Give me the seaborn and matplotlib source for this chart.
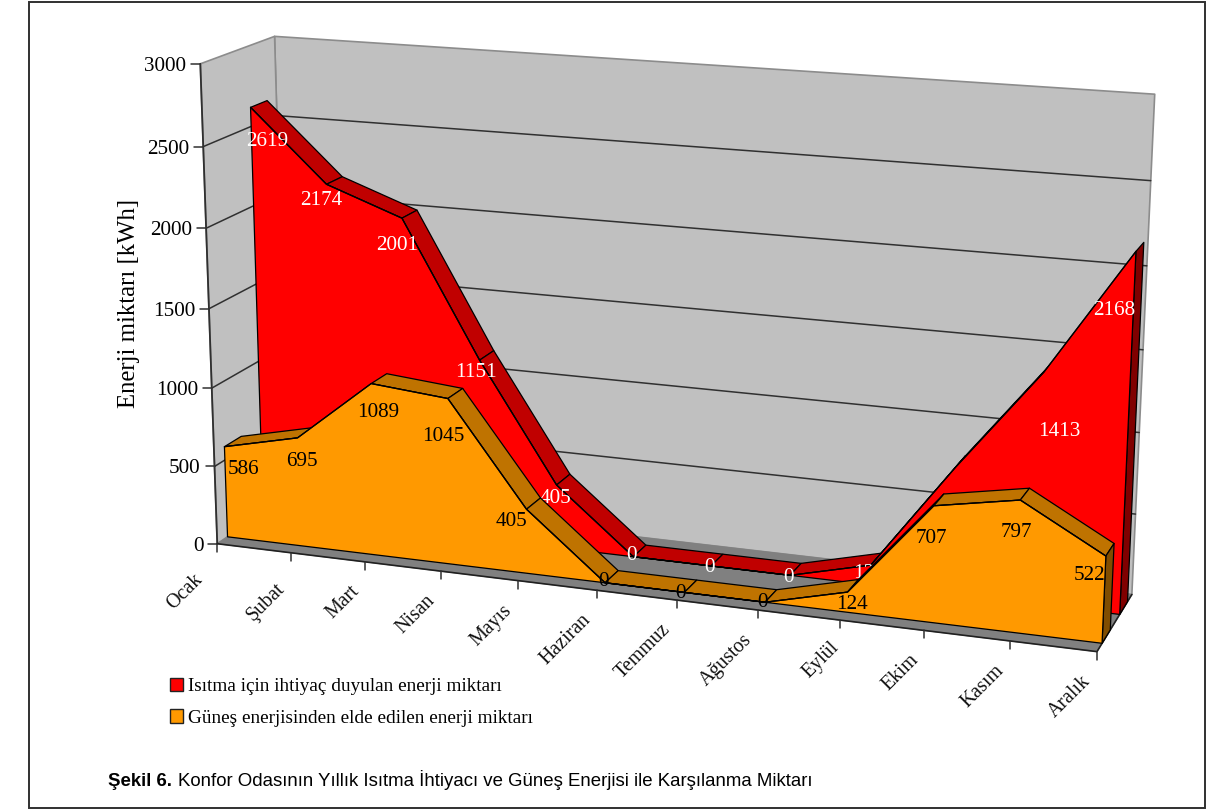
import numpy as np
import pandas as pd
import matplotlib
matplotlib.use("Agg")
import matplotlib.pyplot as plt
from matplotlib import font_manager
from matplotlib.patches import Patch, Polygon, Rectangle
import seaborn as sns

# Monthly energy figures
months = ["Ocak", "Şubat", "Mart", "Nisan", "Mayıs", "Haziran", "Temmuz",
          "Ağustos", "Eylül", "Ekim", "Kasım", "Aralık"]
heating_need = [2619, 2174, 2001, 1151, 405, 0, 0, 0, 124, 790, 1413, 2168]
solar_gain = [586, 695, 1089, 1045, 405, 0, 0, 0, 124, 707, 797, 522]
value_ticks = [0, 500, 1000, 1500, 2000, 2500, 3000]
heating_name = "Isıtma için ihtiyaç duyulan enerji miktarı"
solar_name = "Güneş enerjisinden elde edilen enerji miktarı"

# Pixel placement of the eight corners of the plot box, keyed by
# (month fraction, value fraction, depth fraction); they fix the camera.
BOX = {(0, 0, 0): (218, 542), (1, 0, 0): (1097, 652),
       (0, 1, 0): (199, 63), (1, 1, 0): (1120, 130),
       (0, 0, 1): (287, 498), (1, 0, 1): (1132, 594),
       (0, 1, 1): (276, 37), (1, 1, 1): (1154, 92)}
HEATING_DEPTH = (0.64, 0.87)
SOLAR_DEPTH = (0.14, 0.37)

RED, RED_TOP, RED_SIDE = "#FF0000", "#C00000", "#800000"
ORANGE, ORANGE_TOP, ORANGE_SIDE = "#FF9900", "#BF7300", "#804D00"
WALL, FLOOR = "#C0C0C0", "#808080"
SERIF = "Liberation Serif"
VALUE_SIZE = 15.2


def fit_camera(corners):
    rows = []
    for (a, b, c), (u, v) in corners.items():
        u, v = u / 1000, v / 1000
        rows.append([a, b, c, 1, 0, 0, 0, 0, -u * a, -u * b, -u * c, -u])
        rows.append([0, 0, 0, 0, a, b, c, 1, -v * a, -v * b, -v * c, -v])
    return np.linalg.svd(np.array(rows, float))[2][-1].reshape(3, 4)


CAMERA = fit_camera(BOX)


def project(month, value, depth):
    """Screen position of a month index, an energy value and a depth."""
    h = CAMERA @ np.array([month / 11, value / 3000, depth, 1.0])
    return h[:2] / h[2] * 1000


sns.set_theme(style="white")
fig = plt.figure(figsize=(12.32, 8.11), dpi=100, facecolor="white")
ax = fig.add_axes([0, 0, 1, 1])
ax.set_xlim(0, 1232)
ax.set_ylim(811, 0)
ax.axis("off")


def quad(points, face, zorder, edge="black", lw=0.9):
    ax.add_patch(Polygon(points, closed=True, facecolor=face, edgecolor=edge,
                         linewidth=lw, joinstyle="round", zorder=zorder))


# Outer frame of the figure
ax.add_patch(Rectangle((29, 1.5), 1176, 806.5, fill=False, edgecolor="#303030",
                       linewidth=1.4, zorder=1))

# Walls and floor
quad([project(0, 0, 1), project(11, 0, 1), project(11, 3000, 1), project(0, 3000, 1)],
     WALL, 2, edge="#8C8C8C", lw=1.2)
quad([project(0, 0, 0), project(0, 0, 1), project(0, 3000, 1), project(0, 3000, 0)],
     WALL, 2, edge="#8C8C8C", lw=1.2)
quad([project(0, 0, 0), project(11, 0, 0), project(11, 0, 1), project(0, 0, 1)],
     FLOOR, 2.5, edge=FLOOR, lw=0.8)

# Gridlines across the left and the back wall, with axis ticks
for tick in value_ticks[1:-1]:
    corner = project(0, tick, 1)
    pts = np.array([project(0, tick, 0), corner, project(11, tick, 1)])
    ax.plot(pts[:, 0], pts[:, 1], color="#303030", lw=1.1, zorder=3)
for tick in value_ticks:
    x, y = project(0, tick, 0)
    ax.plot([x - 9, x], [y, y], color="#303030", lw=1.1, zorder=3)
    ax.text(x - 14, y, str(tick), ha="right", va="center_baseline", family=SERIF,
            fontsize=VALUE_SIZE, color="black", zorder=9)

axis = np.array([project(0, 0, 0), project(0, 3000, 0)])
ax.plot(axis[:, 0], axis[:, 1], color="#303030", lw=1.3, zorder=3)
edge = np.array([project(0, 0, 0), project(11, 0, 0), project(11, 0, 1)])
ax.plot(edge[:, 0], edge[:, 1], color="#202020", lw=1.2, zorder=3)

# Month ticks and labels along the front edge
month_nudges = [(-8, 6), (0, 6), (0, 0), (0, 0), (0, 0), (0, 0), (0, 0), (0, 0),
                (5, -2), (0, 0), (0, 0), (0, 0)]
for i, name in enumerate(months):
    x, y = project(i, 0, 0)
    ax.plot([x, x], [y, y + 8], color="#303030", lw=1.1, zorder=3)
    dx, dy = month_nudges[i]
    ax.text(x - 9 + dx, y + 27 + dy, name, rotation=45, rotation_mode="anchor", ha="right",
            va="center", family=SERIF, fontsize=14.3, color="#111111", zorder=9)


def draw_series(values, depths, face, top, side, base_z):
    near, far = depths
    # Top ribbon, only where it faces the viewer
    for i in range(len(values) - 1):
        a0 = project(i, values[i], near)
        a1 = project(i + 1, values[i + 1], near)
        b0 = project(i, values[i], far)
        b1 = project(i + 1, values[i + 1], far)
        run, rise = a1 - a0
        back_x, back_y = b0 - a0
        if run * back_y - rise * back_x < 0:
            quad([a0, a1, b1, b0], top, base_z)
    last = len(values) - 1
    quad([project(last, 0, near), project(last, values[last], near),
          project(last, values[last], far), project(last, 0, far)], side, base_z)
    # Front face
    outline = [project(i, v, near) for i, v in enumerate(values)]
    quad([project(0, 0, near)] + outline + [project(last, 0, near)], face, base_z + 0.2)
    frame = pd.DataFrame(outline, columns=["x", "y"])
    sns.lineplot(data=frame, x="x", y="y", sort=False, estimator=None, color="black",
                 linewidth=0.9, ax=ax, zorder=base_z + 0.3, legend=False)


draw_series(heating_need, HEATING_DEPTH, RED, RED_TOP, RED_SIDE, 4)

# Value labels: screen offset from the front corner of each month
heating_offsets = [(17, 32), (-5, 14), (-5, 25), (-4, 10), (-1, 11), (-2, -4), (-2, -1),
                   (-2, 0), (-2, 6), (0, 80), (16, 57), (-22, 57)]
solar_offsets = [(19, 20), (4, 21), (7, 26), (-5, 35), (-15, 10), (-2, -4), (-4, -1),
                 (-3, -2), (4, 10), (-3, 30), (-4, 30), (-16, 17)]

for i, v in enumerate(heating_need):
    x, y = project(i, v, HEATING_DEPTH[0])
    dx, dy = heating_offsets[i]
    ax.text(x + dx, y + dy, str(v), ha="center", va="center_baseline", family=SERIF,
            fontsize=VALUE_SIZE, color="white", zorder=4.5)

draw_series(solar_gain, SOLAR_DEPTH, ORANGE, ORANGE_TOP, ORANGE_SIDE, 5)

for i, v in enumerate(solar_gain):
    x, y = project(i, v, SOLAR_DEPTH[0])
    dx, dy = solar_offsets[i]
    ax.text(x + dx, y + dy, str(v), ha="center", va="center_baseline", family=SERIF,
            fontsize=VALUE_SIZE, color="black", zorder=6)

ax.text(129, 303, "Enerji miktarı [kWh]", rotation=90, ha="center", va="center",
        family=SERIF, fontsize=17.8, color="black", zorder=9)

# Legend below the plot
handles = [Patch(facecolor=RED, edgecolor="#222222", label=heating_name),
           Patch(facecolor=ORANGE, edgecolor="#222222", label=solar_name)]
ax.legend(handles=handles, loc="upper left", bbox_to_anchor=(164 / 1232, 1 - 672 / 811),
          bbox_transform=fig.transFigure, frameon=False, handlelength=0.68,
          handleheight=0.68, handletextpad=0.28, labelspacing=0.74, borderpad=0.3,
          borderaxespad=0, labelcolor="black", prop={"family": SERIF, "size": 13.85})

# Caption, in a narrow sans where one is available
names = {f.name for f in font_manager.fontManager.ttflist}
narrow = "Liberation Sans Narrow" if "Liberation Sans Narrow" in names else "Liberation Sans"
ax.text(108, 786, "Şekil 6.", family=narrow, fontweight="bold", fontsize=13.4,
        ha="left", va="baseline", color="black", zorder=9)
ax.text(178, 786, "Konfor Odasının Yıllık Isıtma İhtiyacı ve Güneş Enerjisi ile Karşılanma Miktarı",
        family=narrow, fontsize=13.45, ha="left", va="baseline", color="black", zorder=9)

fig.savefig("out.png", dpi=100)
